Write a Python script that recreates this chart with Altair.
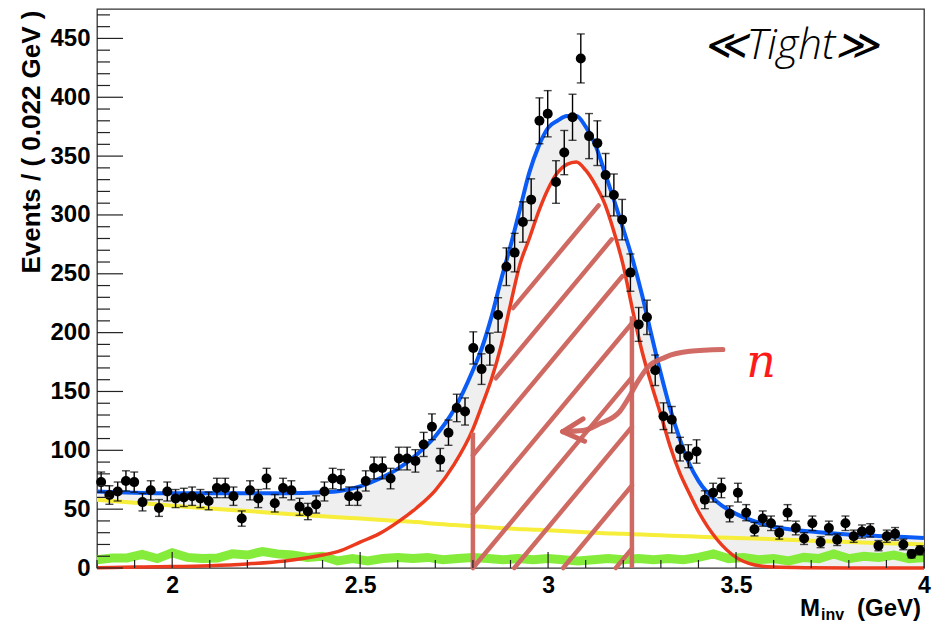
import altair as alt
import numpy as np
import pandas as pd

X_MIN, X_MAX = 1.8, 4.0
Y_MAX = 475
BIN_WIDTH = 0.022

# ---- binned data (events per 0.022 GeV bin) ----
counts = [73, 62, 65, 74, 73, 56, 66, 51, 65, 59,
          60, 61, 59, 57, 68, 68, 61, 42, 66, 59,
          76, 55, 68, 66, 52, 48, 54, 65, 76, 75,
          61, 61, 74, 85, 85, 76, 93, 93, 91, 105,
          120, 92, 115, 136, 133, 187, 169, 186, 215, 256,
          268, 294, 313, 380, 386, 328, 353, 383, 433, 367,
          361, 334, 317, 296, 251, 207, 213, 168, 129, 126,
          101, 95, 99, 58, 64, 68, 46, 64, 47, 33,
          42, 38, 30, 47, 34, 25, 38, 22, 34, 24,
          38, 27, 31, 32, 19, 27, 29, 20, 12, 15]
bin_centers = [round(X_MIN + BIN_WIDTH * (i + 0.5), 4) for i in range(len(counts))]

# ---- fitted curves ----
curve_x = [1.80, 1.90, 2.00, 2.10, 2.20, 2.30, 2.40, 2.45, 2.50, 2.55, 2.60, 2.65,
           2.70, 2.75, 2.80, 2.825, 2.85, 2.875, 2.90, 2.925, 2.95, 2.975, 3.00,
           3.025, 3.05, 3.075, 3.10, 3.125, 3.15, 3.175, 3.20, 3.225, 3.25, 3.275,
           3.30, 3.325, 3.35, 3.375, 3.40, 3.45, 3.50, 3.55, 3.60, 3.70, 3.80, 3.90, 4.00]
total_fit = [65, 64, 63.5, 63.5, 63.5, 63.5, 64.3, 65.7, 69.4, 75.7, 84.2, 96.3,
             112, 134.6, 168, 188, 214, 245, 273.5, 304.7, 336, 358.5, 374,
             380, 384, 384, 375, 360, 337, 313, 288, 262, 232, 198,
             165, 135, 110, 89, 74, 56, 46, 39.5, 35, 31, 28.5, 27, 25.5]
signal = [0.3, 0.8, 1.2, 2, 3.5, 6, 11, 15, 22, 29, 39, 51,
          66, 88, 118, 139, 161, 189, 224, 258, 280, 303, 322,
          336, 343, 345, 338, 326, 310, 286, 257, 219, 184, 156,
          130, 103, 81, 64, 48, 24, 9, 2.5, 0.8, 0.2, 0, 0, 0]
background = [58, 55.5, 53, 50.5, 48.5, 46, 44, 43, 42, 41, 40, 39,
              37.5, 36.5, 35.5, 35, 34.5, 34, 33.5, 33, 32.8, 32.5, 32,
              31.6, 31.2, 30.8, 30.4, 30, 29.6, 29.3, 29, 28.7, 28.4, 28.1,
              27.8, 27.5, 27.2, 26.9, 26.6, 26, 25.5, 25, 24.5, 23.2, 22, 21, 20]

# ---- green noisy component ----
green_x = [round(1.80 + 0.04 * i, 2) for i in range(56)]
green_y = [7, 8.5, 8.5, 11.5, 8, 13, 9, 8, 8.5, 12, 11, 14, 12, 11, 9, 10,
           6, 8, 6, 8, 9, 8, 9, 7, 8, 9, 8, 7, 8, 7, 8, 7, 6, 7, 8, 7,
           8, 7, 8, 7, 9, 12, 8, 9, 7, 8, 6, 9, 8, 12, 8, 10, 9, 11, 8, 9]

# ---- hand-drawn annotations ----
hatch_x0 = [2.33, 2.44, 2.55, 2.68, 2.80, 2.91, 3.04, 3.18]   # where each stroke meets y=0
hatch_edges_x = [2.80, 3.223]
hatch_edges_top = [115, 214]
arrow_x = [3.465, 3.377, 3.311, 3.265, 3.239, 3.212, 3.191, 3.138, 3.093, 3.039]
arrow_y = [185.6, 184.1, 179, 170.5, 158.6, 143.3, 133.1, 122.7, 116.8, 115.9]
arrow_head_x = [3.093, 3.097]
arrow_head_y = [126.7, 107.7]

y_major = list(range(0, 451, 50))
y_minor = [v for v in range(0, 471, 10) if v % 50 != 0]
x_major = [2.0, 2.5, 3.0, 3.5, 4.0]
x_minor = [round(1.8 + 0.1 * i, 1) for i in range(23) if round(1.8 + 0.1 * i, 1) not in x_major]

# ---- tables ----
pts = pd.DataFrame({"m": bin_centers, "n": counts})
pts["lo"] = pts["n"] - np.sqrt(pts["n"])
pts["hi"] = pts["n"] + np.sqrt(pts["n"])

curves = pd.DataFrame({"m": curve_x, "total": total_fit, "sig": signal, "bkg": background})
curves["low"] = np.where(curves["m"] < 3.47,
                         np.maximum(curves["bkg"], curves["sig"]), curves["sig"])

green = pd.DataFrame({"m": green_x, "g": green_y})

HATCH_SLOPE = 383.0
HATCH_GAP = 12.0
xs_f = np.linspace(hatch_edges_x[0], hatch_edges_x[1], 4201)
red_f = np.interp(xs_f, curve_x, signal)
rows = []
for x0 in hatch_x0:
    ly = HATCH_SLOPE * (xs_f - x0)
    ok = np.where((ly >= 0) & (ly <= red_f - HATCH_GAP))[0]
    if len(ok):
        a, b = ok[0], ok[-1]
        rows.append({"x": xs_f[a], "y": ly[a], "x2": xs_f[b], "y2": ly[b]})
hatch = pd.DataFrame(rows)
edges = pd.DataFrame({"x": hatch_edges_x, "y": [0, 0], "y2": hatch_edges_top})

arrow = pd.DataFrame({"x": arrow_x, "y": arrow_y, "o": list(range(len(arrow_x)))})
head = pd.DataFrame({"x": [arrow_x[-1]] * 2, "y": [arrow_y[-1]] * 2,
                     "x2": arrow_head_x, "y2": arrow_head_y})

# ---- scales & axes ----
xs = alt.Scale(domain=[X_MIN, X_MAX], nice=False, zero=False)
ys = alt.Scale(domain=[0, Y_MAX], nice=False, zero=True)
FONT = "Liberation Sans"
x_axis = alt.Axis(values=x_major, format="~g", title=None, grid=False, ticks=False,
                  domain=False, labelFont=FONT, labelFontWeight="bold", labelFontSize=23,
                  labelPadding=6, labelFlush=False, labelColor="black")
y_axis = alt.Axis(values=y_major, title="Events / ( 0.022 GeV )", grid=False, ticks=False,
                  domain=False, labelFont=FONT, labelFontWeight="bold", labelFontSize=24,
                  labelPadding=7, labelColor="black",
                  titleFont=FONT, titleFontWeight="bold", titleFontSize=26, titleColor="black",
                  titleAngle=270, titleAlign="right", titleBaseline="alphabetic",
                  titleX=-58, titleY=1)

X = lambda f: alt.X(f, scale=xs, axis=x_axis)
Y = lambda f: alt.Y(f, scale=ys, axis=y_axis)

gray = alt.Chart(curves).mark_area(color="#efefef", interpolate="monotone").encode(
    x=X("m:Q"), y=Y("total:Q"), y2="low:Q")
yellow = alt.Chart(curves).mark_line(color="#f6ee3a", strokeWidth=4, interpolate="monotone").encode(
    x=X("m:Q"), y=Y("bkg:Q"))
green_l = alt.Chart(green).mark_line(color="#86ec3c", strokeWidth=9).encode(
    x=X("m:Q"), y=Y("g:Q"))
red = alt.Chart(curves).mark_line(color="#ec3a1e", strokeWidth=3.5, interpolate="monotone").encode(
    x=X("m:Q"), y=Y("sig:Q"))
hatch_l = alt.Chart(hatch).mark_rule(color="#cf6a63", strokeWidth=4.5, strokeCap="round").encode(
    x=X("x:Q"), y=Y("y:Q"), x2="x2:Q", y2="y2:Q")
edges_l = alt.Chart(edges).mark_rule(color="#cf6a63", strokeWidth=4.5).encode(
    x=X("x:Q"), y=Y("y:Q"), y2="y2:Q")
blue = alt.Chart(curves).mark_line(color="#0b5cf7", strokeWidth=4, interpolate="monotone").encode(
    x=X("m:Q"), y=Y("total:Q"))
err = alt.Chart(pts).mark_rule(color="black", strokeWidth=1.4).encode(
    x=X("m:Q"), y=Y("lo:Q"), y2="hi:Q")
cap_lo = alt.Chart(pts).mark_tick(color="black", orient="horizontal", size=8, thickness=1.4).encode(
    x=X("m:Q"), y=Y("lo:Q"))
cap_hi = alt.Chart(pts).mark_tick(color="black", orient="horizontal", size=8, thickness=1.4).encode(
    x=X("m:Q"), y=Y("hi:Q"))
dots = alt.Chart(pts).mark_circle(color="black", size=100, opacity=1).encode(
    x=X("m:Q"), y=Y("n:Q"))
arrow_l = alt.Chart(arrow).mark_line(color="#cd645d", strokeWidth=5, interpolate="monotone",
                                     strokeCap="round", opacity=0.95).encode(
    x=X("x:Q"), y=Y("y:Q"), order="o:Q")
head_l = alt.Chart(head).mark_rule(color="#cd645d", strokeWidth=5, strokeCap="round").encode(
    x=X("x:Q"), y=Y("y:Q"), x2="x2:Q", y2="y2:Q")

ytick_major = alt.Chart(pd.DataFrame({"v": y_major})).mark_rule(color="#222", strokeWidth=1.2).encode(
    y=Y("v:Q"), x=alt.value(0), x2=alt.value(26))
ytick_minor = alt.Chart(pd.DataFrame({"v": y_minor})).mark_rule(color="#222", strokeWidth=1.2).encode(
    y=Y("v:Q"), x=alt.value(0), x2=alt.value(13))
xtick_major = alt.Chart(pd.DataFrame({"v": x_major})).mark_rule(color="#222", strokeWidth=1.2).encode(
    x=X("v:Q"), y=alt.value(559), y2=alt.value(543))
xtick_minor = alt.Chart(pd.DataFrame({"v": x_minor})).mark_rule(color="#222", strokeWidth=1.2).encode(
    x=X("v:Q"), y=alt.value(559), y2=alt.value(551))


def label(txt, x, y, size, **kw):
    return alt.Chart(pd.DataFrame({"t": [txt]})).mark_text(fontSize=size, **kw).encode(
        x=alt.value(x), y=alt.value(y), text="t:N")


t_M = label("M", 703, 607, 24, font=FONT, fontWeight="bold", align="left", baseline="alphabetic", color="black")
t_inv = label("inv", 724, 611, 16, font=FONT, fontWeight="bold", align="left", baseline="alphabetic", color="black")
t_gev = label("(GeV)", 824, 607, 24, font=FONT, fontWeight="bold", align="right", baseline="alphabetic", color="black")
t_tight = label("≪Tight≫", 694, 50, 42, font="Open Sans", fontWeight=300, fontStyle="italic",
                align="center", baseline="alphabetic", color="black")
t_n = label("n", 664, 368, 46, font="DejaVu Serif", fontStyle="italic", align="center",
            baseline="alphabetic", color="#ff1a1a")

chart = alt.layer(
    gray, yellow, green_l, red, hatch_l, edges_l, blue, err, cap_lo, cap_hi, dots,
    arrow_l, head_l, ytick_major, ytick_minor, xtick_major, xtick_minor,
    t_M, t_inv, t_gev, t_tight, t_n
).properties(
    width=827, height=559,
    padding={"left": 89, "top": 1, "right": 9, "bottom": 56},
    autosize=alt.AutoSizeParams(type="none"),
    background="white",
).configure_view(stroke="#333", strokeWidth=1.3)

chart.save("out.html", embed_options={"renderer": "svg", "actions": False})
